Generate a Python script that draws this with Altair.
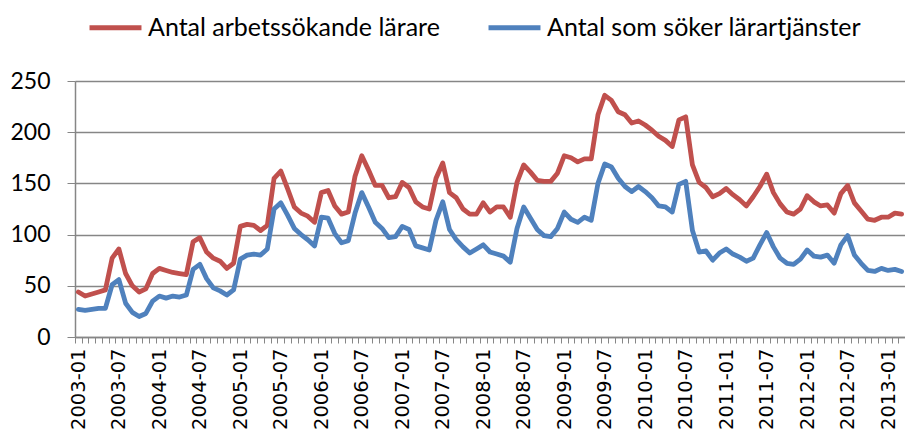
import altair as alt
import pandas as pd

months = [f"{y}-{m:02d}" for y in range(2003, 2014) for m in range(1, 13)][:123]

series_names = ["Antal arbetssökande lärare", "Antal som söker lärartjänster"]
series_colors = ["#C0504D", "#4F81BD"]

red_vals = [
    44, 40, 42, 44, 46, 77, 86, 62, 50, 44, 47, 62,
    67, 65, 63, 62, 61, 93, 97, 83, 77, 74, 67, 72,
    108, 110, 109, 104, 109, 155, 162, 145, 127, 121, 118, 112,
    141, 143, 128, 120, 122, 157, 177, 163, 148, 148, 136, 137,
    151, 146, 132, 127, 125, 155, 170, 141, 136, 125, 120, 120,
    131, 122, 127, 127, 117, 151, 168, 161, 153, 152, 152, 160,
    177, 175, 171, 174, 174, 217, 236, 231, 220, 217, 209, 211,
    207, 202, 196, 192, 186, 212, 215, 168, 151, 146, 137, 140,
    145, 139, 134, 128, 137, 147, 159, 141, 130, 122, 120, 125,
    138, 132, 128, 129, 121, 140, 148, 131, 123, 115, 114, 117,
    117, 121, 120,
]

blue_vals = [
    27, 26, 27, 28, 28, 51, 56, 33, 24, 20, 23, 35,
    40, 38, 40, 39, 41, 66, 71, 57, 48, 45, 41, 46,
    76, 80, 81, 80, 86, 125, 131, 119, 106, 100, 95, 89,
    117, 116, 101, 92, 94, 121, 141, 127, 112, 106, 97, 98,
    108, 105, 89, 87, 85, 114, 132, 105, 95, 88, 82, 86,
    90, 83, 81, 79, 73, 106, 127, 116, 105, 99, 98, 106,
    122, 115, 112, 117, 114, 150, 169, 166, 155, 147, 142, 147,
    142, 136, 128, 127, 122, 149, 152, 104, 83, 84, 75, 82,
    86, 81, 78, 74, 77, 90, 102, 88, 77, 72, 71, 76,
    85, 79, 78, 80, 72, 90, 99, 80, 72, 65, 64, 67,
    65, 66, 64,
]

y_ticks = [0, 50, 100, 150, 200, 250]

df = pd.DataFrame({
    "month": months + months,
    "value": red_vals + blue_vals,
    "series": [series_names[0]] * len(red_vals) + [series_names[1]] * len(blue_vals),
})

W = 830
step = W / len(months)
grid_gray = "#868686"

chart = alt.Chart(df).mark_line(strokeWidth=4.8, strokeJoin="round", strokeCap="round").encode(
    x=alt.X(
        "month:N",
        sort=months,
        scale=alt.Scale(type="point", padding=0.5),
        axis=alt.Axis(
            title=None,
            labelAngle=-90,
            labelExpr="(substring(datum.value,5,7)=='01' || substring(datum.value,5,7)=='07') ? datum.value : ''",
            labelFont="DejaVu Sans",
            labelFontSize=19.5,
            labelColor="#000000",
            labelOverlap=False,
            labelBound=False,
            labelPadding=5,
            tickOffset=-step / 2,
            labelOffset=step / 2,
            tickSize=6,
            tickColor=grid_gray,
            domainColor=grid_gray,
            domainWidth=1.5,
            grid=False,
        ),
    ),
    y=alt.Y(
        "value:Q",
        scale=alt.Scale(domain=[0, 250], nice=False, zero=True),
        axis=alt.Axis(
            title=None,
            values=y_ticks,
            labelFont="Lato",
            labelFontSize=23,
            labelColor="#000000",
            labelPadding=17,
            tickSize=8,
            tickColor=grid_gray,
            domainColor=grid_gray,
            domainWidth=1.5,
            gridColor=grid_gray,
            gridWidth=1.5,
        ),
    ),
    color=alt.Color(
        "series:N",
        scale=alt.Scale(domain=series_names, range=series_colors),
        legend=alt.Legend(
            title=None,
            orient="none",
            direction="horizontal",
            legendX=12,
            legendY=-82,
            symbolType="stroke",
            symbolStrokeWidth=5,
            symbolSize=2700,
            labelFont="Lato",
            labelFontSize=25,
            labelColor="#000000",
            labelLimit=0,
            labelOffset=4,
            columnPadding=38,
        ),
    ),
).properties(
    width=W,
    height=256,
    autosize="none",
    padding={"left": 67, "top": 73, "right": 0, "bottom": 98},
).configure_view(stroke=None).configure(background="white")

chart.save("out.html", embed_options={"renderer": "svg", "actions": False})
